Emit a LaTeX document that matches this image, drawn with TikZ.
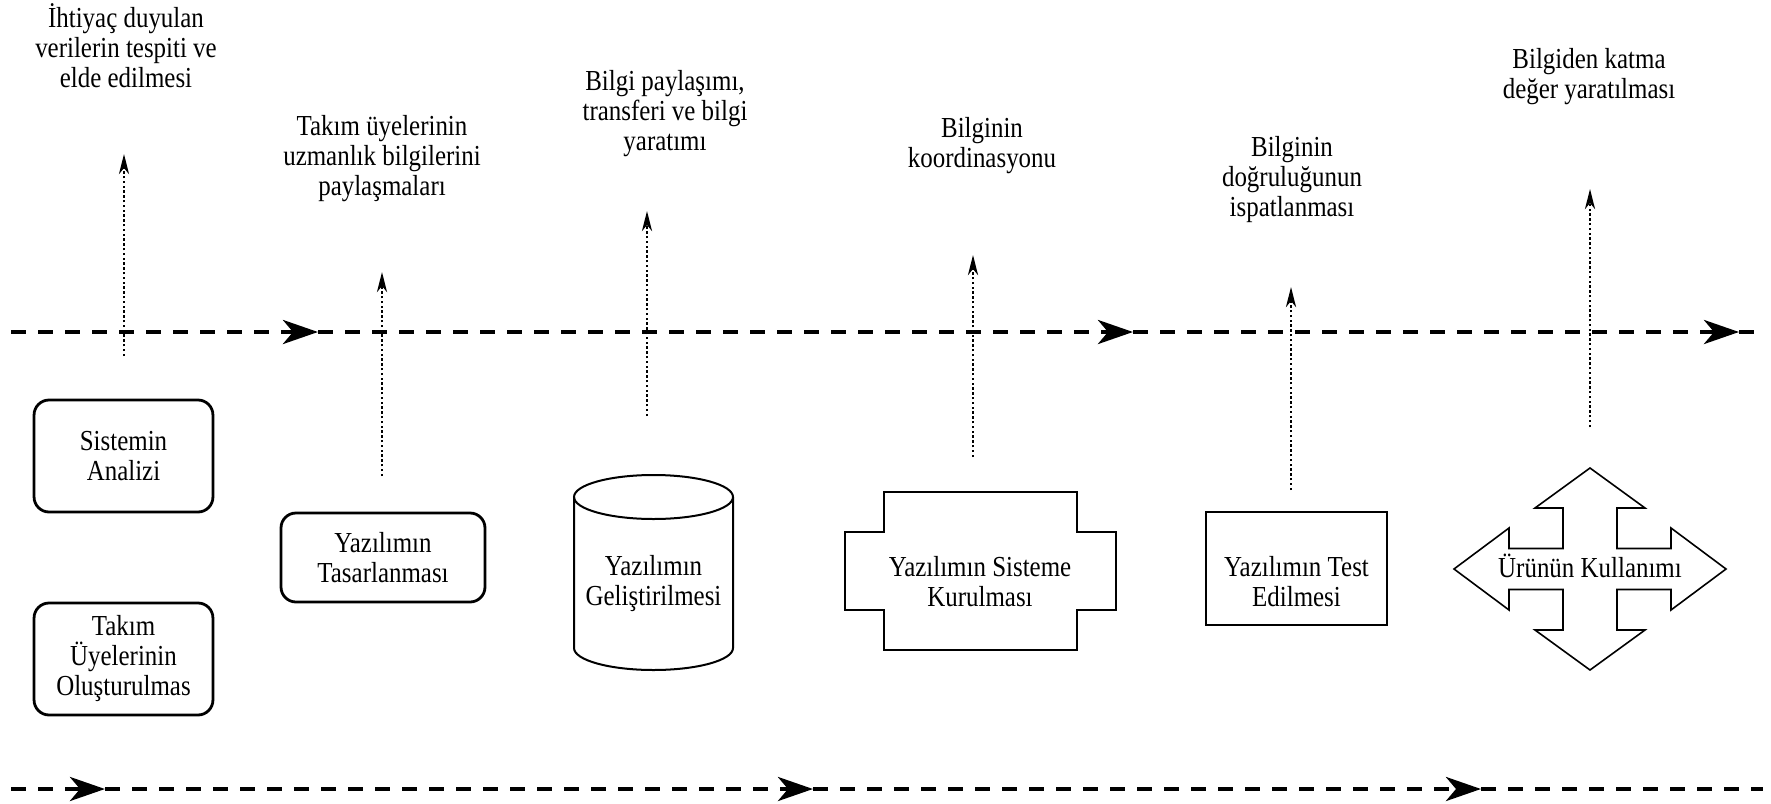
\documentclass[tikz,border=0pt]{standalone}
\usepackage{fontspec}
\setmainfont{Liberation Serif}
\usetikzlibrary{arrows.meta}

\begin{document}
\begin{tikzpicture}[x=0.5pt, y=-0.5pt,
  txt/.style={font=\fontsize{14.5}{15}\selectfont, align=center, inner sep=0pt, xscale=0.86},
  timeline/.style={line width=2.2pt, dash pattern=on 7.5pt off 6pt},
  bigtip/.style={-{Stealth[length=17.5pt,width=12pt,inset=5pt]}},
  flow/.style={line width=1.4pt, dash pattern=on 1.2pt off 1.2pt,
    -{Stealth[length=10pt,width=5pt,inset=3pt]}},
  roundbox/.style={txt, draw, line width=1.4pt, rounded corners=7.5pt},
  shapeline/.style={line width=1pt},
]
\useasboundingbox (0,0) rectangle (1771,803);

% upper process line
\coordinate (a0) at (11,332);
\coordinate (a1) at (318,332);
\coordinate (a2) at (1133,332);
\coordinate (a3) at (1739,332);
\coordinate (a4) at (1763,332);
\draw[timeline,bigtip] (a0) -- (a1);
\draw[timeline,bigtip] (a1) -- (a2);
\draw[timeline,bigtip] (a2) -- (a3);
\draw[timeline] (a3) -- (a4);

% lower process line
\coordinate (b0) at (11,789);
\coordinate (b1) at (105,789);
\coordinate (b2) at (813,789);
\coordinate (b3) at (1481,789);
\coordinate (b4) at (1763,789);
\draw[timeline,bigtip] (b0) -- (b1);
\draw[timeline,bigtip] (b1) -- (b2);
\draw[timeline,bigtip] (b2) -- (b3);
\draw[timeline] (b3) -- (b4);

% knowledge activities
\node[txt] (t1) at (126,46)  {İhtiyaç duyulan\\verilerin tespiti ve\\elde edilmesi};
\node[txt] (t2) at (382,159) {Takım üyelerinin\\uzmanlık bilgilerini\\paylaşmaları};
\node[txt] (t3) at (665,114) {Bilgi paylaşımı,\\transferi ve bilgi\\yaratımı};
\node[txt] (t4) at (982,146) {Bilginin\\koordinasyonu};
\node[txt] (t5) at (1292,180) {Bilginin\\doğruluğunun\\ispatlanması};
\node[txt] (t6) at (1589,77) {Bilgiden katma\\değer yaratılması};

% dotted links from phases to activities
\coordinate (f1a) at (124,356);  \coordinate (f1b) at (124,154);
\coordinate (f2a) at (382,476);  \coordinate (f2b) at (382,272);
\coordinate (f3a) at (647,416);  \coordinate (f3b) at (647,211);
\coordinate (f4a) at (973,457);  \coordinate (f4b) at (973,255);
\coordinate (f5a) at (1291,490); \coordinate (f5b) at (1291,287);
\coordinate (f6a) at (1590,427); \coordinate (f6b) at (1590,189);
\draw[flow] (f1a) -- (f1b);
\draw[flow] (f2a) -- (f2b);
\draw[flow] (f3a) -- (f3b);
\draw[flow] (f4a) -- (f4b);
\draw[flow] (f5a) -- (f5b);
\draw[flow] (f6a) -- (f6b);

% phases (widths divided by the 0.86 text squeeze)
\node[roundbox, minimum width=104pt, minimum height=56pt] (analiz) at (123.5,456) {Sistemin\\Analizi};
\node[roundbox, minimum width=104pt, minimum height=56pt] (takim) at (123.5,659) {Takım\\Üyelerinin\\Oluşturulmas};
\node[roundbox, minimum width=118.6pt, minimum height=44.5pt] (tasarim) at (383,557.5) {Yazılımın\\Tasarlanması};

% cylinder
\draw[shapeline] (574,497) -- (574,648)
  arc[start angle=180, end angle=360, x radius=39.75pt, y radius=11pt] -- (733,497);
\draw[shapeline] (653.5,497) ellipse [x radius=39.75pt, y radius=11pt];
\node[txt] (gelistirme) at (653.5,584) {Yazılımın\\Geliştirilmesi};

% stepped cross
\draw[shapeline] (884,492) -| (1077,532) -| (1116,610) -| (1077,650)
  -| (884,610) -| (845,532) -| (884,492) -- cycle;
\node[txt] (kurulum) at (980,582) {Yazılımın Sisteme\\Kurulması};

% test box
\node[draw, shapeline, minimum width=90.5pt, minimum height=56.5pt] (testbox) at (1296.5,568.5) {};
\node[txt] (test) at (1296.5,582) {Yazılımın Test\\Edilmesi};

% four-way arrow
\draw[line width=0.8pt, shift={(1590,569)}]
  (0,-101) -- (55,-61) -- (27,-61) -- (27,-20.5) -- (81,-20.5) -- (81,-41)
  -- (136,0) -- (81,41) -- (81,20.5) -- (27,20.5) -- (27,61) -- (55,61)
  -- (0,101) -- (-55,61) -- (-27,61) -- (-27,20.5) -- (-81,20.5) -- (-81,41)
  -- (-136,0) -- (-81,-41) -- (-81,-20.5) -- (-27,-20.5) -- (-27,-61) -- (-55,-61) -- cycle;
\node[txt] (kullanim) at (1590,566) {Ürünün Kullanımı};

\end{tikzpicture}
\end{document}
